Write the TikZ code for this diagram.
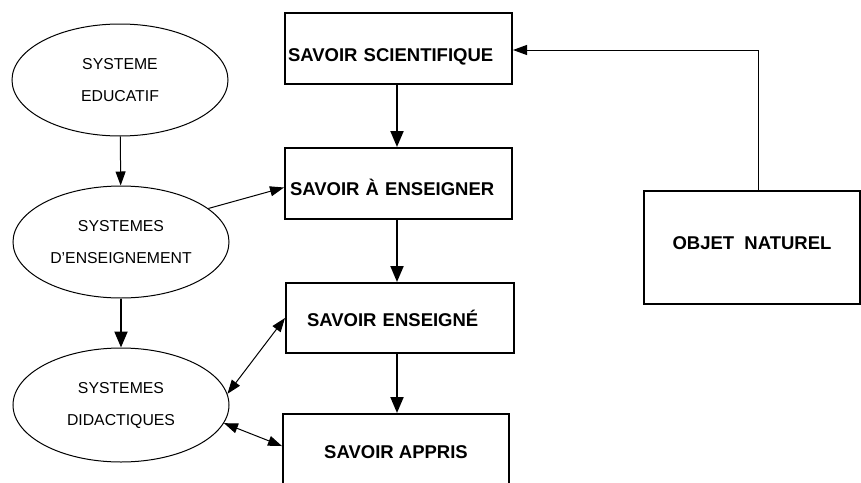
\documentclass[tikz,border=0pt]{standalone}
\usepackage{fontspec}
\setmainfont{Liberation Sans}
\usetikzlibrary{arrows.meta,shapes.geometric,calc}

\begin{document}
\begin{tikzpicture}[x=0.5pt,y=-0.5pt,
  sys/.style={draw,ellipse,line width=0.5pt,minimum width=108pt,minimum height=56pt,
    inner sep=0pt,align=center,font=\fontsize{7.9}{16}\selectfont},
  sav/.style={draw,rectangle,line width=1pt,minimum height=35.5pt,
    font=\fontsize{9.25}{11}\selectfont\bfseries,text height=6.7pt,text depth=0pt},
  thinarr/.style={line width=0.5pt,-{Triangle[length=7pt,width=5pt]}},
  thickarr/.style={line width=1pt,-{Triangle[length=8pt,width=6.5pt]}},
  bothway/.style={line width=0.5pt,{Triangle[length=7pt,width=5pt]}-{Triangle[length=7pt,width=5pt]}}]
\useasboundingbox (0,0) rectangle (861,482);
\clip (0,0) rectangle (861,482);
\node[sys] (educ) at (120,80) {SYSTEME\\EDUCATIF};
\node[sys] (ens) at (121,242) {SYSTEMES\\D’ENSEIGNEMENT};
\node[sys,minimum height=57pt] (did) at (121,405) {SYSTEMES\\DIDACTIQUES};
\node[sav,inner xsep=1.5pt,text width=110.5pt,align=left,text height=12.6pt] (scient) at (398.5,48.5) {SAVOIR SCIENTIFIQUE};
\node[sav,inner xsep=2.5pt,text width=108.5pt,align=left,text height=11.6pt] (aens) at (398.5,183.5) {SAVOIR À ENSEIGNER};
\node[sav,inner xsep=10.5pt,text width=93pt,align=left,text height=8.6pt,minimum height=35pt] (ensg) at (400,318) {SAVOIR ENSEIGNÉ};
\node[sav,minimum width=113pt,minimum height=38pt] (appris) at (396,452) {SAVOIR APPRIS};
\node[sav,minimum width=108pt,minimum height=56.5pt,text depth=5.1pt] (objet) at (752,247.5) {OBJET\ \ NATUREL};
\coordinate (col) at (397,0);
\foreach \a/\b in {scient/aens,aens/ensg,ensg/appris}
  \draw[thickarr] (\a.south -| col) -- (\b.north -| col);
\draw[thinarr] (educ) -- (ens);
\draw[thickarr] (ens) -- (did);
\draw[thinarr] (ens.21) -- (aens.182);
\draw[bothway] (did.6) -- (ensg.west);
\draw[bothway] (did.-10) -- (appris.177);
\coordinate (bend) at (758,50);
\draw[thinarr] (objet.north -| bend) -- (bend) -- (scient.east |- bend);
\end{tikzpicture}
\end{document}
